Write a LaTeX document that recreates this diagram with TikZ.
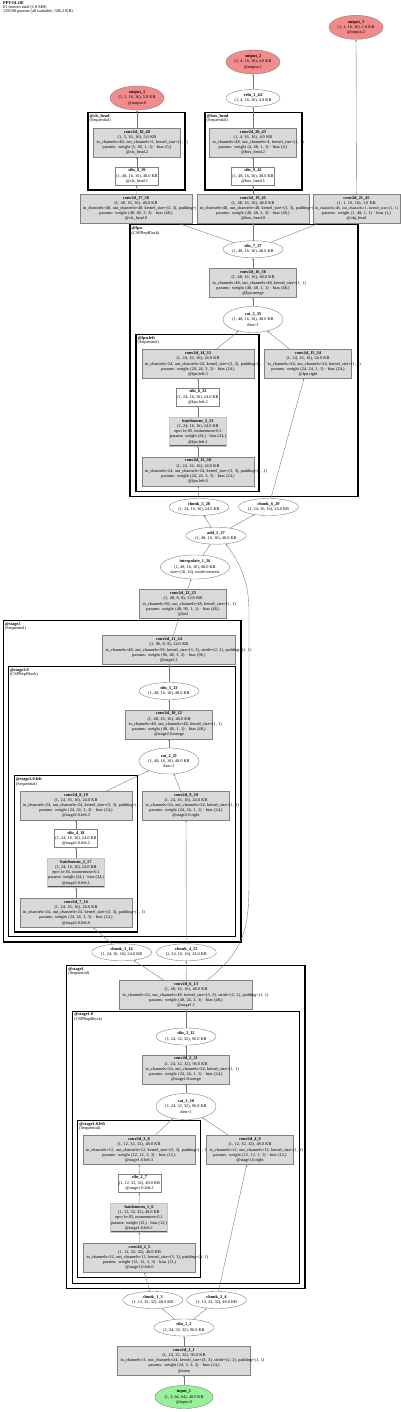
\documentclass[tikz,border=0pt]{standalone}
\usepackage{fontspec}
\setmainfont{Liberation Serif}
\usetikzlibrary{shapes.geometric,arrows.meta}
\definecolor{convfill}{HTML}{D9D9D9}
\definecolor{outfill}{HTML}{F28B8B}
\definecolor{infill}{HTML}{98F098}
\newcommand{\wideline}[1]{\makebox[\linewidth][l]{#1}}
\begin{document}
\begin{tikzpicture}[
    x=1pt, y=-1pt,
    every node/.style={font=\fontsize{4.3}{5.2}\selectfont},
    op/.style={draw=gray, align=center, inner xsep=3pt, inner ysep=2pt},
    convbox/.style={op, rectangle, fill=convfill, minimum height=29pt},
    conva/.style={convbox, text width=81pt},
    convb/.style={convbox, text width=106pt},
    convc/.style={convbox, text width=127pt},
    actbox/.style={op, rectangle, fill=white, inner xsep=1pt},
    normbox/.style={op, rectangle, fill=convfill, inner xsep=0.5pt, draw=gray!70!black, line width=0.6pt, double=gray!45, double distance=0.5pt},
    tensor/.style={op, ellipse, fill=white, minimum width=60pt, minimum height=17pt, inner sep=0pt},
    catnode/.style={tensor, minimum height=26pt},
    outnode/.style={tensor, fill=outfill, minimum width=54pt, minimum height=24pt},
    innode/.style={tensor, fill=infill, minimum width=58pt, minimum height=23pt},
    grp/.style={draw=black, line width=1.1pt},
    grplab/.style={anchor=north west, align=left, inner sep=1.5pt, font=\fontsize{4.3}{4.6}\selectfont},
    edge/.style={-{Stealth[length=2pt,width=1.6pt]}, draw=black!55, line width=0.35pt}
  ]
  \useasboundingbox (0,0) rectangle (400,1412);

  \node[anchor=north west, align=left, inner sep=0pt, font=\fontsize{4.3}{4.3}\selectfont] (title) at (3,1)
    {\textbf{PPYOLOE}\\61 tensors total (1.8 MB)\\129598 params (all trainable, 506.2 KB)};

  % module boxes
  \foreach \xa/\ya/\xb/\yb/\nm/\kind in {
      88/112.7/185/190/{@cls\_head}/Sequential,
      205/112.7/302/190/{@box\_head}/Sequential,
      130/224.7/358/496.7/@fpn/CSPRepBlock,
      136/334.3/259/491.3/@fpn.left/Sequential,
      3.3/620.7/241/942/@stage2/Sequential,
      8.3/666.7/235.3/936.7/@stage2.0/CSPRepBlock,
      14.3/775.7/137.3/932/@stage2.0.left/Sequential,
      66.7/965.7/305/1288.3/@stage1/Sequential,
      72.7/1011.3/299.3/1283.3/@stage1.0/CSPRepBlock,
      77.7/1120.3/200.7/1277.3/@stage1.0.left/Sequential}
  {
    \draw[grp] (\xa,\ya) rectangle (\xb,\yb);
    \node[grplab] at (\xa,\ya) {\textbf{\nm}\\(\kind)};
  }

  % heads
  \node[outnode] (out3) at (356,27.3) {\textbf{output\_3}\\(1, 1, 16, 16), 1.0 KB\\@output.2};
  \node[outnode] (out2) at (253,62) {\textbf{output\_2}\\(1, 4, 16, 16), 4.0 KB\\@output.1};
  \node[outnode] (out1) at (137,98) {\textbf{output\_1}\\(1, 5, 16, 16), 5.0 KB\\@output.0};
  \node[tensor, minimum width=54pt] (relu1) at (253,98) {\textbf{relu\_1\_44}\\(1, 4, 16, 16), 4.0 KB};
  \node[conva] (conv18) at (137,142.5) {\textbf{conv2d\_18\_40}\\(1, 5, 16, 16), 5.0 KB\\
    \wideline{in\_channels=48, out\_channels=5, kernel\_size=(1, 1)}\\params: weight (5, 48, 1, 1) · bias (5,)\\@cls\_head.2};
  \node[actbox] (silu8) at (137,176) {\textbf{silu\_8\_39}\\(1, 48, 16, 16), 48.0 KB\\@cls\_head.1};
  \node[conva] (conv20) at (253,142.5) {\textbf{conv2d\_20\_43}\\(1, 4, 16, 16), 4.0 KB\\
    \wideline{in\_channels=48, out\_channels=4, kernel\_size=(1, 1)}\\params: weight (4, 48, 1, 1) · bias (4,)\\@box\_head.2};
  \node[actbox] (silu9) at (253,176) {\textbf{silu\_9\_42}\\(1, 48, 16, 16), 48.0 KB\\@box\_head.1};
  \node[convb] (conv17) at (136,208.5) {\textbf{conv2d\_17\_38}\\(1, 48, 16, 16), 48.0 KB\\
    \wideline{in\_channels=48, out\_channels=48, kernel\_size=(3, 3), padding=(1, 1)}\\params: weight (48, 48, 3, 3) · bias (48,)\\@cls\_head.0};
  \node[convb] (conv19) at (253,208.5) {\textbf{conv2d\_19\_41}\\(1, 48, 16, 16), 48.0 KB\\
    \wideline{in\_channels=48, out\_channels=48, kernel\_size=(3, 3), padding=(1, 1)}\\params: weight (48, 48, 3, 3) · bias (48,)\\@box\_head.0};
  \node[conva] (conv21) at (356.5,208.5) {\textbf{conv2d\_21\_45}\\(1, 1, 16, 16), 1.0 KB\\
    \makebox[\linewidth][c]{\fontsize{3.9}{5.2}\selectfont in\_channels=48, out\_channels=1, kernel\_size=(1, 1)}\\params: weight (1, 48, 1, 1) · bias (1,)\\@obj\_head};

  % fpn
  \node[tensor] (silu7) at (253,249.3) {\textbf{silu\_7\_37}\\(1, 48, 16, 16), 48.0 KB};
  \node[conva] (conv16) at (253,283) {\textbf{conv2d\_16\_36}\\(1, 48, 16, 16), 48.0 KB\\
    \wideline{in\_channels=48, out\_channels=48, kernel\_size=(1, 1)}\\params: weight (48, 48, 1, 1) · bias (48,)\\@fpn.merge};
  \node[catnode] (cat3) at (253,319.5) {\textbf{cat\_3\_35}\\(1, 48, 16, 16), 48.0 KB\\dim=1};
  \node[convb] (conv14) at (198,364) {\textbf{conv2d\_14\_33}\\(1, 24, 16, 16), 24.0 KB\\
    \wideline{in\_channels=24, out\_channels=24, kernel\_size=(3, 3), padding=(1, 1)}\\params: weight (24, 24, 3, 3) · bias (24,)\\@fpn.left.3};
  \node[conva] (conv15) at (308,364) {\textbf{conv2d\_15\_34}\\(1, 24, 16, 16), 24.0 KB\\
    \wideline{in\_channels=24, out\_channels=24, kernel\_size=(1, 1)}\\params: weight (24, 24, 1, 1) · bias (24,)\\@fpn.right};
  \node[actbox] (silu6) at (198,397) {\textbf{silu\_6\_32}\\(1, 24, 16, 16), 24.0 KB\\@fpn.left.2};
  \node[normbox] (bn3) at (198,431.7) {\textbf{batchnorm\_3\_31}\\(1, 24, 16, 16), 24.0 KB\\eps=1e-05, momentum=0.1\\params: weight (24,) · bias (24,)\\@fpn.left.1};
  \node[convb] (conv13) at (198,471.3) {\textbf{conv2d\_13\_30}\\(1, 24, 16, 16), 24.0 KB\\
    \wideline{in\_channels=24, out\_channels=24, kernel\_size=(3, 3), padding=(1, 1)}\\params: weight (24, 24, 3, 3) · bias (24,)\\@fpn.left.0};
  \node[tensor] (chunk5) at (199,507) {\textbf{chunk\_5\_28}\\(1, 24, 16, 16), 24.0 KB};
  \node[tensor] (chunk6) at (268.5,507) {\textbf{chunk\_6\_29}\\(1, 24, 16, 16), 24.0 KB};
  \node[tensor] (add1) at (216,535.7) {\textbf{add\_1\_27}\\(1, 48, 16, 16), 48.0 KB};
  \node[tensor, minimum height=24pt] (interp1) at (195,567) {\textbf{interpolate\_1\_26}\\(1, 48, 16, 16), 48.0 KB\\size=(16, 16), mode=nearest};
  \node[conva] (conv12) at (183,604) {\textbf{conv2d\_12\_25}\\(1, 48, 8, 8), 12.0 KB\\
    \wideline{in\_channels=96, out\_channels=48, kernel\_size=(1, 1)}\\params: weight (48, 96, 1, 1) · bias (48,)\\@lat2};

  % stage2
  \node[convc] (conv11) at (169,650) {\textbf{conv2d\_11\_24}\\(1, 96, 8, 8), 24.0 KB\\
    \wideline{in\_channels=48, out\_channels=96, kernel\_size=(3, 3), stride=(2, 2), padding=(1, 1)}\\params: weight (96, 48, 3, 3) · bias (96,)\\@stage2.1};
  \node[tensor] (silu5) at (169,691) {\textbf{silu\_5\_23}\\(1, 48, 16, 16), 48.0 KB};
  \node[conva] (conv10) at (169,724.3) {\textbf{conv2d\_10\_22}\\(1, 48, 16, 16), 48.0 KB\\
    \wideline{in\_channels=48, out\_channels=48, kernel\_size=(1, 1)}\\params: weight (48, 48, 1, 1) · bias (48,)\\@stage2.0.merge};
  \node[catnode] (cat2) at (169,761) {\textbf{cat\_2\_21}\\(1, 48, 16, 16), 48.0 KB\\dim=1};
  \node[convb] (conv8) at (76,805.5) {\textbf{conv2d\_8\_19}\\(1, 24, 16, 16), 24.0 KB\\
    \wideline{in\_channels=24, out\_channels=24, kernel\_size=(3, 3), padding=(1, 1)}\\params: weight (24, 24, 3, 3) · bias (24,)\\@stage2.0.left.3};
  \node[conva] (conv9) at (186,805.5) {\textbf{conv2d\_9\_20}\\(1, 24, 16, 16), 24.0 KB\\
    \wideline{in\_channels=24, out\_channels=24, kernel\_size=(1, 1)}\\params: weight (24, 24, 1, 1) · bias (24,)\\@stage2.0.right};
  \node[actbox] (silu4) at (76,838.3) {\textbf{silu\_4\_18}\\(1, 24, 16, 16), 24.0 KB\\@stage2.0.left.2};
  \node[normbox] (bn2) at (76,872.7) {\textbf{batchnorm\_2\_17}\\(1, 24, 16, 16), 24.0 KB\\eps=1e-05, momentum=0.1\\params: weight (24,) · bias (24,)\\@stage2.0.left.1};
  \node[convb] (conv7) at (76,912.7) {\textbf{conv2d\_7\_16}\\(1, 24, 16, 16), 24.0 KB\\
    \wideline{in\_channels=24, out\_channels=24, kernel\_size=(3, 3), padding=(1, 1)}\\params: weight (24, 24, 3, 3) · bias (24,)\\@stage2.0.left.0};
  \node[tensor] (chunk3) at (121.7,952.3) {\textbf{chunk\_3\_14}\\(1, 24, 16, 16), 24.0 KB};
  \node[tensor] (chunk4) at (186.3,952.3) {\textbf{chunk\_4\_15}\\(1, 24, 16, 16), 24.0 KB};

  % stage1
  \node[convc] (conv6) at (186,995) {\textbf{conv2d\_6\_13}\\(1, 48, 16, 16), 48.0 KB\\
    \wideline{in\_channels=24, out\_channels=48, kernel\_size=(3, 3), stride=(2, 2), padding=(1, 1)}\\params: weight (48, 24, 3, 3) · bias (48,)\\@stage1.1};
  \node[tensor] (silu3) at (186,1036.5) {\textbf{silu\_3\_12}\\(1, 24, 32, 32), 96.0 KB};
  \node[conva] (conv5) at (186,1069.2) {\textbf{conv2d\_5\_11}\\(1, 24, 32, 32), 96.0 KB\\
    \wideline{in\_channels=24, out\_channels=24, kernel\_size=(1, 1)}\\params: weight (24, 24, 1, 1) · bias (24,)\\@stage1.0.merge};
  \node[catnode] (cat1) at (186,1106.5) {\textbf{cat\_1\_10}\\(1, 24, 32, 32), 96.0 KB\\dim=1};
  \node[convb] (conv3) at (139,1150) {\textbf{conv2d\_3\_8}\\(1, 12, 32, 32), 48.0 KB\\
    \wideline{in\_channels=12, out\_channels=12, kernel\_size=(3, 3), padding=(1, 1)}\\params: weight (12, 12, 3, 3) · bias (12,)\\@stage1.0.left.3};
  \node[conva] (conv4) at (250,1150) {\textbf{conv2d\_4\_9}\\(1, 12, 32, 32), 48.0 KB\\
    \wideline{in\_channels=12, out\_channels=12, kernel\_size=(1, 1)}\\params: weight (12, 12, 1, 1) · bias (12,)\\@stage1.0.right};
  \node[actbox] (silu2) at (139.5,1183) {\textbf{silu\_2\_7}\\(1, 12, 32, 32), 48.0 KB\\@stage1.0.left.2};
  \node[normbox] (bn1) at (139,1217.8) {\textbf{batchnorm\_1\_6}\\(1, 12, 32, 32), 48.0 KB\\eps=1e-05, momentum=0.1\\params: weight (12,) · bias (12,)\\@stage1.0.left.1};
  \node[convb] (conv2) at (139.5,1257.5) {\textbf{conv2d\_2\_5}\\(1, 12, 32, 32), 48.0 KB\\
    \wideline{in\_channels=12, out\_channels=12, kernel\_size=(3, 3), padding=(1, 1)}\\params: weight (12, 12, 3, 3) · bias (12,)\\@stage1.0.left.0};
  \node[tensor] (chunk1) at (152.7,1300) {\textbf{chunk\_1\_3}\\(1, 12, 32, 32), 48.0 KB};
  \node[tensor] (chunk2) at (216.5,1300) {\textbf{chunk\_2\_4}\\(1, 12, 32, 32), 48.0 KB};

  % stem and input
  \node[tensor] (silu1) at (184,1327.5) {\textbf{silu\_1\_2}\\(1, 24, 32, 32), 96.0 KB};
  \node[convc] (conv1) at (184,1360.5) {\textbf{conv2d\_1\_1}\\(1, 24, 32, 32), 96.0 KB\\
    \wideline{in\_channels=3, out\_channels=24, kernel\_size=(3, 3), stride=(2, 2), padding=(1, 1)}\\params: weight (24, 3, 3, 3) · bias (24,)\\@stem};
  \node[innode] (in1) at (184,1397) {\textbf{input\_1}\\(1, 3, 64, 64), 48.0 KB\\@input.0};

  % data flow
  \foreach \a/\b in {in1/conv1, conv1/silu1, silu1/chunk1, silu1/chunk2,
      chunk1/conv2, conv2/bn1, bn1/silu2, silu2/conv3, conv3/cat1,
      chunk2/conv4, conv4/cat1, cat1/conv5, conv5/silu3, silu3/conv6,
      conv6/chunk3, conv6/chunk4,
      chunk3/conv7, conv7/bn2, bn2/silu4, silu4/conv8, conv8/cat2,
      chunk4/conv9, conv9/cat2, cat2/conv10, conv10/silu5, silu5/conv11,
      conv11/conv12, conv12/interp1, interp1/add1, add1/chunk5, add1/chunk6,
      chunk5/conv13, conv13/bn3, bn3/silu6, silu6/conv14, conv14/cat3,
      chunk6/conv15, conv15/cat3, cat3/conv16, conv16/silu7,
      silu7/conv17, silu7/conv19, silu7/conv21,
      conv17/silu8, silu8/conv18, conv18/out1,
      conv19/silu9, silu9/conv20, conv20/relu1, relu1/out2, conv21/out3}
    \draw[edge] (\a) -- (\b);
  \draw[edge] (conv6.35) .. controls (246,950) and (249,925) .. (249,880)
    -- (249,610) .. controls (249,580) and (238,560) .. (add1.-40);
\end{tikzpicture}
\end{document}
